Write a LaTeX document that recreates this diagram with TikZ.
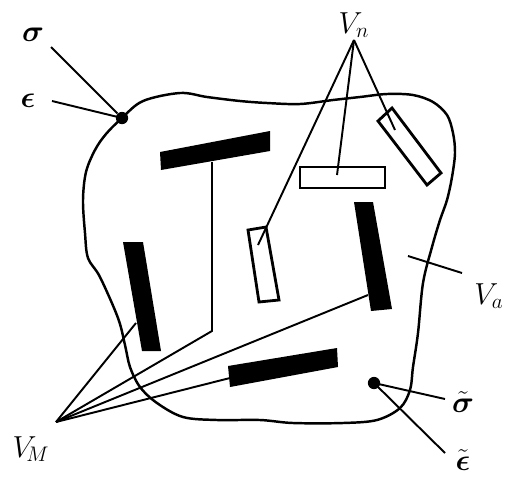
\documentclass[tikz,border=0pt]{standalone}
\usepackage{amsmath}
\usepackage{amssymb}
\usetikzlibrary{positioning,calc}

\begin{document}
\begin{tikzpicture}[
  x=0.02cm, y=-0.02cm,
  lead/.style={line width=1.1pt},
  blob/.style={line width=1.4pt, line join=round},
  solidbar/.style={fill=black},
  openbar/.style={draw, line width=1.6pt, fill=white},
  lbl/.style={font=\LARGE, inner sep=1pt},
  spot/.style={circle, fill=black, inner sep=0pt, minimum size=7pt}
]
\useasboundingbox (0,0) rectangle (507,481);

% Body boundary
\draw[blob] plot[smooth cycle, tension=0.55] coordinates {
  (122,118) (143,101) (180,93) (207,97) (240,101) (267,103) (300,104)
  (333,100) (360,97) (387,94) (413,95) (433,102) (447,115) (453,133)
  (455,153) (452,177) (447,200) (440,220) (432,247) (423,283) (418,333)
  (413,367) (410,390) (400,408) (377,420) (343,423) (293,423) (260,420)
  (217,420) (183,417) (157,403) (140,387) (130,367) (125,345) (118,318)
  (100,277) (88,258) (85,233) (83,200) (86,172) (95,150) (106,134)};

% Solid inclusions
\fill[solidbar] (160,152) -- (270,131) -- (270,151) -- (161,170) -- cycle;
\fill[solidbar] (123,242) -- (143,242) -- (161,351) -- (142,351) -- cycle;
\fill[solidbar] (354,202) -- (373,202) -- (392,309) -- (371,311) -- cycle;
\fill[solidbar] (228,366) -- (337,348) -- (338,367) -- (230,387) -- cycle;

% Open inclusions
\draw[openbar] (300,167) rectangle (385,188);
\draw[openbar] (378,121) -- (392,108) -- (441,173) -- (427,185) -- cycle;
\draw[openbar] (248,230) -- (266,227) -- (279,300) -- (259,302) -- cycle;

% Points on and inside the body
\node[spot] (p) at (122,118) {};
\node[spot] (q) at (374,383) {};

% Labels
\node[lbl] (sig)  at (33,35)   {$\boldsymbol{\sigma}$};
\node[lbl] (eps)  at (28,101)  {$\boldsymbol{\epsilon}$};
\node[lbl, anchor=south] (Vn) at (354,40) {$V_n$};
\node[lbl] (Va)   at (489,296) {$V_a$};
\node[lbl] (sigt) at (463,402) {$\tilde{\boldsymbol{\sigma}}$};
\node[lbl] (epst) at (463,460) {$\tilde{\boldsymbol{\epsilon}}$};
\node[lbl] (VM)   at (31,449)  {$V_{\!M}$};

% Ends of the leader lines
\coordinate (n1) at (258,245);
\coordinate (n2) at (337,175);
\coordinate (n3) at (395,130);
\coordinate (mapex) at (56,422);
\coordinate (m1) at (136,323);
\coordinate (m2) at (368,295);
\coordinate (m3) at (230,378);
\coordinate (tbar) at (212,162);
\coordinate (tbend) at (212,331);
\coordinate (a1) at (408,256);
\coordinate (a2) at (462,273);
\coordinate (s1) at (445,399);
\coordinate (e1) at (445,453);
\coordinate (s0) at (51,47);
\coordinate (e0) at (52,101);

% Leader lines
\draw[lead] (s0) -- (p);
\draw[lead] (e0) -- (p.center);
\foreach \i in {1,2,3} {
  \draw[lead] (Vn.south) -- (n\i);
}
\foreach \i in {1,2,3} {
  \draw[lead] (mapex) -- (m\i);
}
\draw[lead] (tbar) -- (tbend) -- (mapex);
\draw[lead] (a1) -- (a2);
\draw[lead] (q.center) -- (s1);
\draw[lead] (q.center) -- (e1);

\end{tikzpicture}
\end{document}
